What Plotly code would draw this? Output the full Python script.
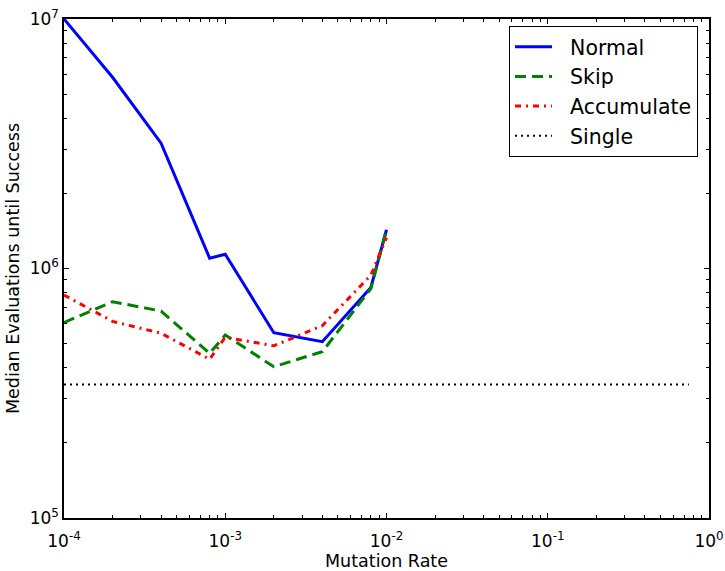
import plotly.graph_objects as go

rates = [1e-4, 2e-4, 4e-4, 8e-4, 1e-3, 2e-3, 4e-3, 8e-3, 1e-2]
normal = [1.0e7, 5.84e6, 3.18e6, 1.10e6, 1.14e6, 5.53e5, 5.09e5, 8.4e5, 1.43e6]
skip = [6.07e5, 7.36e5, 6.75e5, 4.57e5, 5.41e5, 4.04e5, 4.64e5, 8.3e5, 1.43e6]
accumulate = [7.83e5, 6.14e5, 5.5e5, 4.33e5, 5.3e5, 4.9e5, 5.9e5, 9.4e5, 1.33e6]
single_x = [1e-4, 0.75]
single_y = [3.43e5, 3.43e5]

xtick_vals = [1e-4, 1e-3, 1e-2, 1e-1, 1e0]
xtick_text = ["10<sup>-4</sup>", "10<sup>-3</sup>", "10<sup>-2</sup>", "10<sup>-1</sup>", "10<sup>0</sup>"]
ytick_vals = [1e5, 1e6, 1e7]
ytick_text = ["10<sup>5</sup>", "10<sup>6</sup>", "10<sup>7</sup>"]

xminor = [m * 10.0**e for e in range(-4, 0) for m in range(2, 10)]
yminor = [m * 10.0**e for e in range(5, 7) for m in range(2, 10)]

pad = "\u00a0\u00a0"

fig = go.Figure()
fig.add_trace(go.Scatter(x=rates, y=normal, mode="lines", name=pad + "Normal", legendgroup="a",
                         line=dict(color="#0000ff", width=3)))
fig.add_trace(go.Scatter(x=rates, y=skip, mode="lines", name=pad + "Skip", legendgroup="b",
                         line=dict(color="#008000", width=3, dash="11px,6px")))
fig.add_trace(go.Scatter(x=rates, y=accumulate, mode="lines", name=pad + "Accumulate", legendgroup="c",
                         line=dict(color="#ff0000", width=3, dash="6px,5px,2px,5px")))
fig.add_trace(go.Scatter(x=single_x, y=single_y, mode="lines", name=pad + "Single", legendgroup="d",
                         line=dict(color="#000000", width=2, dash="2px,4px")))

font = "DejaVu Sans"
axis_common = dict(
    type="log", showgrid=False, zeroline=False, automargin=False,
    showline=True, linecolor="black", linewidth=1.5, mirror="allticks",
    ticks="inside", ticklen=5, tickwidth=1, tickcolor="black",
    tickfont=dict(family=font, size=17, color="black"),
)
fig.update_xaxes(**axis_common, range=[-4, 0], tickvals=xtick_vals, ticktext=xtick_text,
                 ticklabelstandoff=7,
                 minor=dict(tickvals=xminor, ticks="inside", ticklen=3, tickcolor="black"),
                 title=dict(text="Mutation Rate", standoff=3,
                            font=dict(family=font, size=17.5, color="black")))
fig.update_yaxes(**axis_common, range=[5, 7], tickvals=ytick_vals, ticktext=ytick_text,
                 minor=dict(tickvals=yminor, ticks="inside", ticklen=3, tickcolor="black"),
                 title=dict(text="Median Evaluations until Success", standoff=6,
                            font=dict(family=font, size=17.5, color="black")))

fig.update_layout(
    width=725, height=571,
    margin=dict(l=64, r=16, t=19, b=53),
    paper_bgcolor="white", plot_bgcolor="white",
    font=dict(family=font, color="black"),
    showlegend=True,
    legend=dict(x=0.983, y=0.986, xanchor="right", yanchor="top",
                bordercolor="black", borderwidth=1, bgcolor="white",
                itemwidth=37, tracegroupgap=0,
                font=dict(family=font, size=20.5, color="black")),
)

fig.write_html("out.html")
